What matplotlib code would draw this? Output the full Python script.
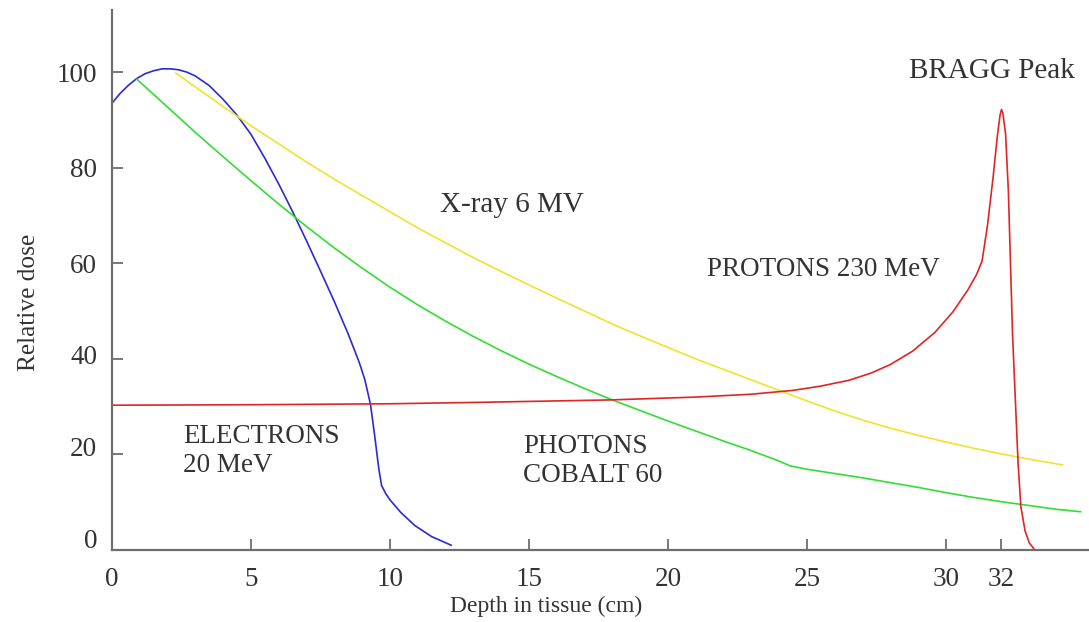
import matplotlib
matplotlib.use("Agg")
import matplotlib.pyplot as plt
from matplotlib.transforms import ScaledTranslation

# Depth-dose curves (depth in cm, relative dose)
electron_x = [0, 0.3, 0.6, 0.9, 1.2, 1.5, 1.8, 2.1, 2.4, 2.7, 3.0, 3.5, 4.0, 4.5, 5.0, 5.5,
              6.0, 6.5, 7.0, 7.5, 8.0, 8.5, 8.9, 9.1, 9.3, 9.45, 9.6, 9.7, 9.85, 10.0,
              10.4, 10.9, 11.5, 12.2]
electron_y = [93.5, 95.6, 97.3, 98.7, 99.7, 100.3, 100.7, 100.7, 100.5, 100.0, 99.2, 97.2,
              94.3, 91.0, 87.0, 82.0, 76.6, 70.8, 64.7, 58.4, 52.0, 45.2, 39.2, 35.6, 30.5,
              24.0, 17.0, 13.5, 11.8, 10.5, 7.8, 5.1, 2.8, 1.0]

cobalt_x = [0.9, 2, 3, 4, 5, 6, 7, 8, 9, 10, 11, 12, 13, 14, 15, 16, 17, 18, 19, 20,
            21, 22, 23, 24, 24.4, 25, 26, 27, 28, 29, 30, 31, 32, 33, 34, 34.85]
cobalt_y = [98.5, 92.7, 87.4, 82.3, 77.3, 72.4, 67.7, 63.2, 59.0, 55.0, 51.3, 47.9, 44.7,
            41.7, 38.9, 36.3, 33.8, 31.4, 29.2, 27.0, 24.9, 22.8, 20.8, 18.6, 17.6, 16.9,
            16.0, 15.1, 14.1, 13.1, 12.0, 11.0, 10.1, 9.3, 8.5, 8.0]

xray_x = [2.3, 3, 4, 5, 6, 7, 8, 9, 10, 11, 12, 13, 14, 15, 16, 17, 18, 19, 20, 21, 22,
          23, 24, 25, 26, 27, 28, 29, 30, 31, 32, 33, 34.2]
xray_y = [99.8, 96.9, 92.8, 88.8, 85.0, 81.2, 77.6, 74.2, 70.8, 67.4, 64.3, 61.2, 58.3,
          55.5, 52.7, 50.0, 47.3, 44.8, 42.4, 40.0, 37.8, 35.6, 33.4, 31.2, 29.1, 27.2,
          25.5, 24.0, 22.6, 21.3, 20.1, 19.0, 17.8]

proton_x = [0, 5, 10, 13.2, 17.9, 21.0, 23.0, 24.5, 25.5, 26.5, 27.3, 28.0, 28.8, 29.6,
            30.25, 30.8, 31.1, 31.3, 31.5, 31.7, 31.85, 31.95, 32.0, 32.05, 32.15, 32.25,
            32.4, 32.6, 32.7, 32.85, 33.0, 33.2]
proton_y = [30.3, 30.4, 30.6, 30.9, 31.4, 32.0, 32.6, 33.4, 34.3, 35.5, 37.0, 38.8, 41.6,
            45.5, 49.8, 54.5, 57.6, 60.4, 68.0, 78.0, 86.5, 91.0, 92.2, 91.5, 87.0, 75.0,
            45.0, 18.0, 9.0, 4.0, 1.5, 0.0]

x_ticks = [0, 5, 10, 15, 20, 25, 30, 32]
y_ticks = [0, 20, 40, 60, 80, 100]

plt.rcParams['font.family'] = ['Liberation Serif', 'DejaVu Serif']
text_color = '#333333'
axis_color = '#6e6e6e'

fig = plt.figure(figsize=(10.89, 6.22), dpi=100)
ax = fig.add_axes([0.1028, 0.1158, 0.8972, 0.868])

ax.plot(electron_x, electron_y, color='#2a2ad8', lw=1.2)
ax.plot(cobalt_x, cobalt_y, color='#33dd33', lw=1.2)
ax.plot(xray_x, xray_y, color='#f2e22e', lw=1.2)
ax.plot(proton_x, proton_y, color='#e22424', lw=1.2)

ax.set_xlim(0, 35.15)
ax.set_ylim(0, 113)

for side in ['top', 'right']:
    ax.spines[side].set_visible(False)
for side in ['left', 'bottom']:
    ax.spines[side].set_color(axis_color)
    ax.spines[side].set_linewidth(1.6)

ax.set_xticks(x_ticks)
ax.set_yticks(y_ticks)
ax.tick_params(direction='in', length=8, width=1.3, color=axis_color,
               labelsize=19.5, labelcolor=text_color)
ax.tick_params(axis='x', pad=12)
ax.tick_params(axis='y', pad=10.5)

# the lower y labels sit a little above their ticks in the original
for lbl, up in zip(ax.get_yticklabels()[:3], [8, 6, 3]):
    lbl.set_transform(lbl.get_transform() + ScaledTranslation(0, up / 72, fig.dpi_scale_trans))

ax.set_xlabel('Depth in tissue (cm)', fontsize=17, color=text_color, labelpad=3, x=0.444)
ax.set_ylabel('Relative dose', fontsize=18.3, color=text_color, labelpad=12, y=0.459)

lab = dict(color=text_color)
ax.text(14.4, 72.3, 'X-ray 6 MV', ha='center', va='center', fontsize=21, **lab)
ax.text(21.4, 58.7, 'PROTONS 230 MeV', ha='left', va='center', fontsize=19.5, **lab)
ax.text(28.67, 100.2, 'BRAGG Peak', ha='left', va='center', fontsize=21, **lab)
ax.text(2.55, 20.75, 'ELECTRONS\n20 MeV', ha='left', va='center', fontsize=19.5,
        linespacing=1.2, **lab)
ax.text(14.8, 18.55, 'PHOTONS\nCOBALT 60', ha='left', va='center', fontsize=19.5,
        linespacing=1.2, **lab)

fig.savefig('out.png', dpi=100)
